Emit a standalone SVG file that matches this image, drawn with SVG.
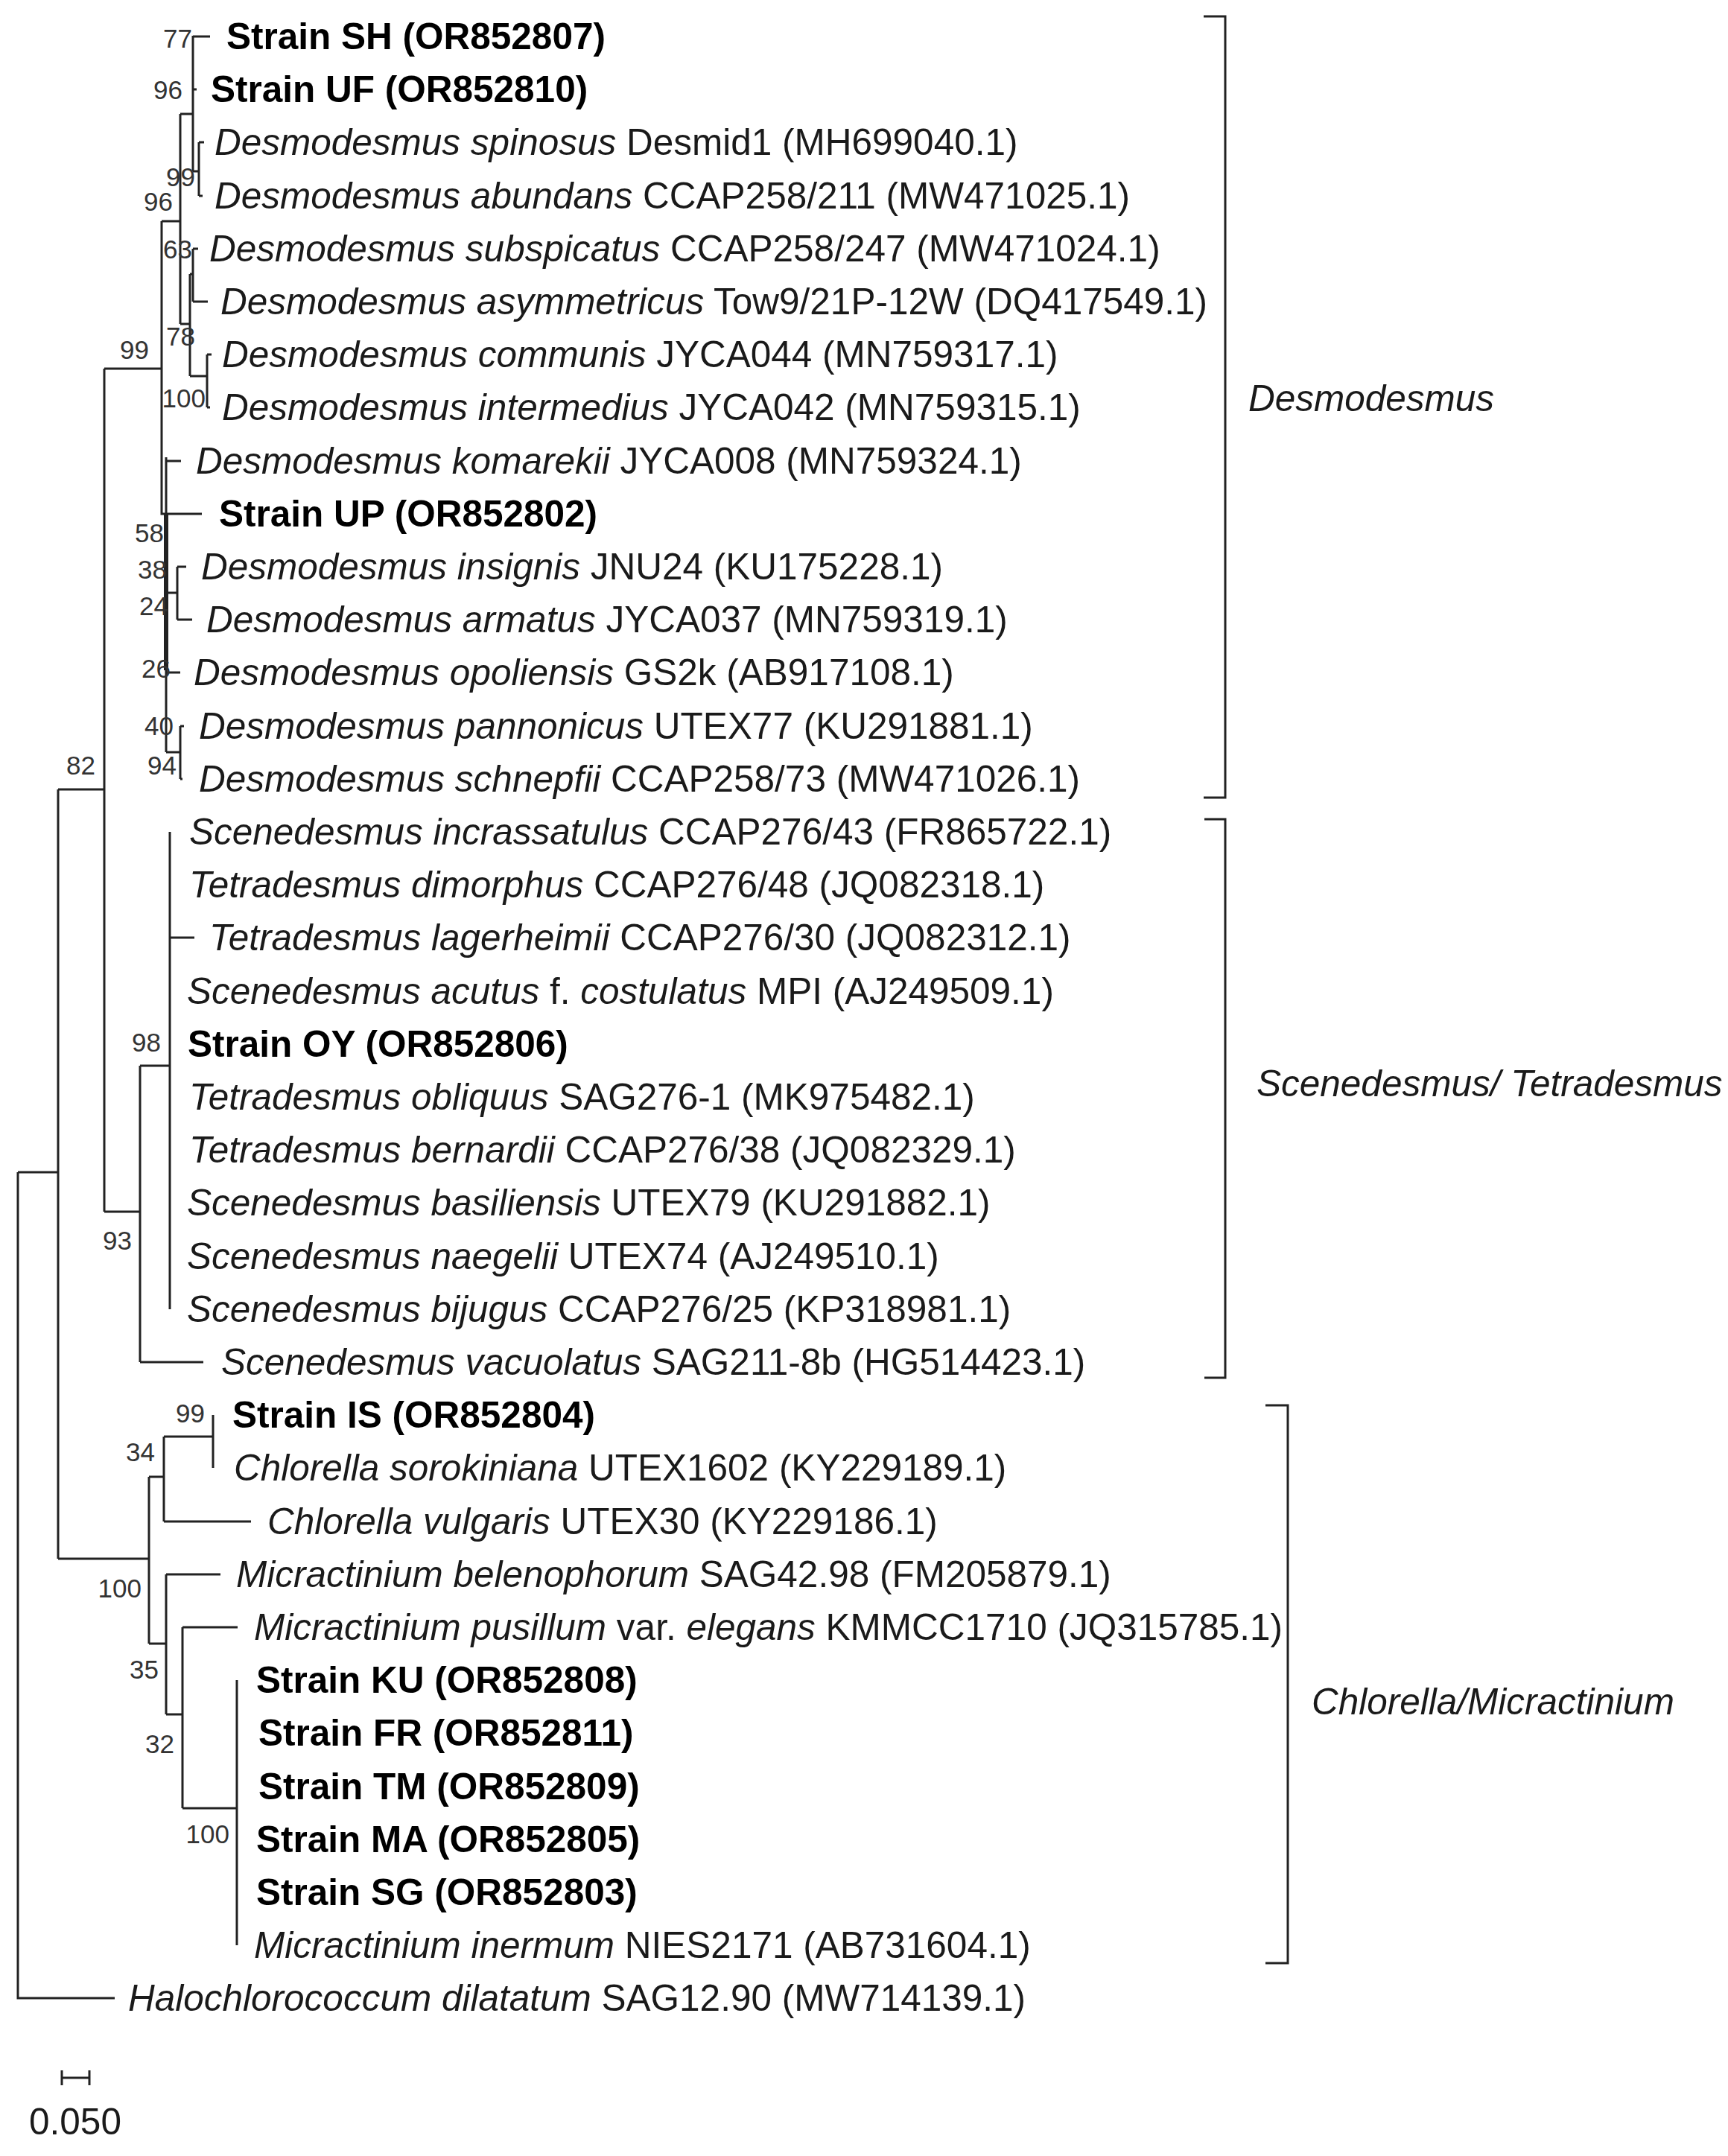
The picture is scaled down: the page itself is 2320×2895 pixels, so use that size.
<svg xmlns="http://www.w3.org/2000/svg" width="2320" height="2895" viewBox="0 0 2320 2895">
<style>
text{font-family:"Liberation Sans",Arial,sans-serif;fill:#1a1a1a}
.t{font-size:49.5px}
.b{font-weight:bold;fill:#000}
.i{font-style:italic}
.s{font-size:35px;text-anchor:end;fill:#333}
.l{fill:none;stroke:#222;stroke-width:3}
</style>
<rect width="2320" height="2895" fill="#fff"/>
<g id="connectors" class="l">
<path d="M24 1574V2683H154M24 1574H78M78 1060V2093M78 1060H140M78 2093H200M140 495V1627M140 495H217M140 1627H188"/>
<path d="M217 297V690H223M217 297H242M242 153V435M242 153H259M242 435H255M259 48V230M259 49H282M259 120H264M259 230H267M267 191V263M267 191H274M267 263H272M255 368V505M255 368H259M255 505H278M259 334V405M259 334H266M259 405H279M278 476V547M278 476H284M278 547H282"/>
<path d="M223 614V1010M223 619H243M223 690H271M223 796H238M238 761V832M238 761H250M238 832H258M223 903H242M223 1010H242M242 975V1046M242 975H247M242 1046H245"/>
<path d="M223 690V900" stroke-width="6"/>
<path d="M188 1431V1829M188 1431H228M188 1829H273M228 1117V1758M228 1259H261"/>
<path d="M200 1983V2207M200 1983H220M200 2207H223M220 1929V2043M220 1929H286M220 2043H337M286 1900V1971M223 2114V2302M223 2114H296M223 2302H245M245 2185V2428M245 2185H319M245 2428H318M318 2256V2612"/>
<path d="M1616 22H1645V1071H1616M1617 1100H1645V1850H1617M1699 1887H1729V2636H1699"/>
<path d="M83 2790H120M83 2780V2800M120 2780V2800"/>
</g>
<g id="support">
<text class="s" x="258" y="64">77</text>
<text class="s" x="245" y="133">96</text>
<text class="s" x="262" y="250">99</text>
<text class="s" x="232" y="283">96</text>
<text class="s" x="258" y="347">63</text>
<text class="s" x="262" y="464">78</text>
<text class="s" x="200" y="482">99</text>
<text class="s" x="276" y="547">100</text>
<text class="s" x="220" y="728">58</text>
<text class="s" x="224" y="777">38</text>
<text class="s" x="226" y="826">24</text>
<text class="s" x="229" y="910">26</text>
<text class="s" x="233" y="987">40</text>
<text class="s" x="237" y="1040">94</text>
<text class="s" x="128" y="1040">82</text>
<text class="s" x="216" y="1412">98</text>
<text class="s" x="177" y="1678">93</text>
<text class="s" x="275" y="1910">99</text>
<text class="s" x="208" y="1962">34</text>
<text class="s" x="190" y="2145">100</text>
<text class="s" x="213" y="2254">35</text>
<text class="s" x="234" y="2354">32</text>
<text class="s" x="308" y="2475">100</text>
</g>
<g id="leaves" class="t">
<text id="n0" class="b" x="304" y="66">Strain SH (OR852807)</text>
<text id="n1" class="b" x="283" y="137">Strain UF (OR852810)</text>
<text id="n2" x="288" y="208"><tspan class="i">Desmodesmus spinosus</tspan> Desmid1 (MH699040.1)</text>
<text id="n3" x="288" y="280"><tspan class="i">Desmodesmus abundans</tspan> CCAP258/211 (MW471025.1)</text>
<text id="n4" x="281" y="351"><tspan class="i">Desmodesmus subspicatus</tspan> CCAP258/247 (MW471024.1)</text>
<text id="n5" x="296" y="422"><tspan class="i">Desmodesmus asymmetricus</tspan> Tow9/21P-12W (DQ417549.1)</text>
<text id="n6" x="298" y="493"><tspan class="i">Desmodesmus communis</tspan> JYCA044 (MN759317.1)</text>
<text id="n7" x="298" y="564"><tspan class="i">Desmodesmus intermedius</tspan> JYCA042 (MN759315.1)</text>
<text id="n8" x="263" y="636"><tspan class="i">Desmodesmus komarekii</tspan> JYCA008 (MN759324.1)</text>
<text id="n9" class="b" x="294" y="707">Strain UP (OR852802)</text>
<text id="n10" x="270" y="778"><tspan class="i">Desmodesmus insignis</tspan> JNU24  (KU175228.1)</text>
<text id="n11" x="277" y="849"><tspan class="i">Desmodesmus armatus</tspan> JYCA037 (MN759319.1)</text>
<text id="n12" x="260" y="920"><tspan class="i">Desmodesmus opoliensis</tspan> GS2k (AB917108.1)</text>
<text id="n13" x="267" y="992"><tspan class="i">Desmodesmus pannonicus</tspan> UTEX77 (KU291881.1)</text>
<text id="n14" x="267" y="1063"><tspan class="i">Desmodesmus schnepfii</tspan> CCAP258/73 (MW471026.1)</text>
<text id="n15" x="254" y="1134"><tspan class="i">Scenedesmus incrassatulus</tspan> CCAP276/43 (FR865722.1)</text>
<text id="n16" x="254" y="1205"><tspan class="i">Tetradesmus dimorphus</tspan> CCAP276/48 (JQ082318.1)</text>
<text id="n17" x="281" y="1276"><tspan class="i">Tetradesmus lagerheimii</tspan> CCAP276/30 (JQ082312.1)</text>
<text id="n18" x="251" y="1348"><tspan class="i">Scenedesmus acutus</tspan> f. <tspan class="i">costulatus</tspan> MPI  (AJ249509.1)</text>
<text id="n19" class="b" x="252" y="1419">Strain OY (OR852806)</text>
<text id="n20" x="254" y="1490"><tspan class="i">Tetradesmus obliquus</tspan> SAG276-1 (MK975482.1)</text>
<text id="n21" x="254" y="1561"><tspan class="i">Tetradesmus bernardii</tspan> CCAP276/38 (JQ082329.1)</text>
<text id="n22" x="251" y="1632"><tspan class="i">Scenedesmus basiliensis</tspan> UTEX79  (KU291882.1)</text>
<text id="n23" x="251" y="1704"><tspan class="i">Scenedesmus naegelii</tspan> UTEX74  (AJ249510.1)</text>
<text id="n24" x="251" y="1775"><tspan class="i">Scenedesmus bijugus</tspan> CCAP276/25 (KP318981.1)</text>
<text id="n25" x="297" y="1846"><tspan class="i">Scenedesmus vacuolatus</tspan> SAG211-8b (HG514423.1)</text>
<text id="n26" class="b" x="312" y="1917">Strain IS (OR852804)</text>
<text id="n27" x="314" y="1988"><tspan class="i">Chlorella sorokiniana</tspan> UTEX1602  (KY229189.1)</text>
<text id="n28" x="359" y="2060"><tspan class="i">Chlorella vulgaris</tspan> UTEX30  (KY229186.1)</text>
<text id="n29" x="317" y="2131"><tspan class="i">Micractinium belenophorum</tspan> SAG42.98  (FM205879.1)</text>
<text id="n30" x="341" y="2202"><tspan class="i">Micractinium pusillum</tspan> var. <tspan class="i">elegans</tspan> KMMCC1710  (JQ315785.1)</text>
<text id="n31" class="b" x="344" y="2273">Strain KU (OR852808)</text>
<text id="n32" class="b" x="347" y="2344">Strain FR (OR852811)</text>
<text id="n33" class="b" x="347" y="2416">Strain TM (OR852809)</text>
<text id="n34" class="b" x="344" y="2487">Strain MA (OR852805)</text>
<text id="n35" class="b" x="344" y="2558">Strain SG (OR852803)</text>
<text id="n36" x="341" y="2629"><tspan class="i">Micractinium inermum</tspan> NIES2171  (AB731604.1)</text>
<text id="n37" x="172" y="2700"><tspan class="i">Halochlorococcum dilatatum</tspan> SAG12.90  (MW714139.1)</text>
</g>
<g id="clades" class="t">
<text class="i" x="1676" y="552">Desmodesmus</text>
<text class="i" x="1687" y="1472">Scenedesmus/ Tetradesmus</text>
<text class="i" x="1761" y="2302">Chlorella/Micractinium</text>
</g>
<text id="scale" class="t" x="101" y="2866" text-anchor="middle" fill="#333">0.050</text>
</svg>
